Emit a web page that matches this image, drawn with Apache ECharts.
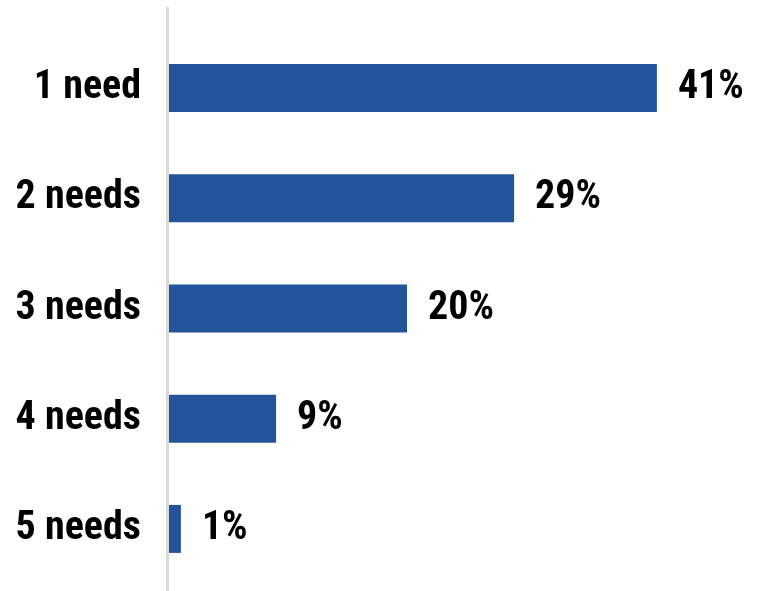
<!DOCTYPE html>
<html>
<head>
<meta charset="utf-8">
<script src="https://cdn.jsdelivr.net/npm/echarts@6/dist/echarts.min.js"></script>
<style>
  html, body { margin: 0; padding: 0; background: #fff; }
  #main { width: 764px; height: 591px; }
</style>
</head>
<body>
<div id="main"></div>
<script>
// 类别与数值
const categories = ["1 need", "2 needs", "3 needs", "4 needs", "5 needs"];
const shares = [41, 29, 20, 9, 1];

const chart = echarts.init(document.getElementById("main"));

const font = '"Liberation Sans Narrow", "Roboto Condensed", "DejaVu Sans Condensed", sans-serif';

const option = {
  animation: false,
  grid: [
    { left: 169, top: 33, width: 596, height: 551 },
    // 只用来画那条长的竖轴线
    { left: 167.5, top: 8, width: 596, height: 583 },
  ],
  xAxis: [
    { gridIndex: 0, type: "value", min: 0, max: 50, show: false },
    { gridIndex: 1, type: "value", min: 0, max: 1, show: false },
  ],
  yAxis: [
    {
      gridIndex: 0,
      type: "category",
      data: categories,
      inverse: true,
      axisLine: { show: false },
      axisTick: { show: false },
      axisLabel: {
        margin: 28,
        color: "#000",
        fontFamily: font,
        fontWeight: "bold",
        fontSize: 40,
      },
    },
    {
      gridIndex: 1,
      type: "value",
      min: 0,
      max: 1,
      axisLine: { show: true, lineStyle: { color: "#d9d9d9", width: 3 } },
      axisTick: { show: false },
      axisLabel: { show: false },
      splitLine: { show: false },
    },
  ],
  series: [
    {
      type: "bar",
      xAxisIndex: 0,
      yAxisIndex: 0,
      data: shares,
      barWidth: 48,
      itemStyle: { color: "#24549a" },
      label: {
        show: true,
        position: "right",
        distance: 21,
        formatter: (p) => p.value + "%",
        color: "#000",
        fontFamily: font,
        fontWeight: "bold",
        fontSize: 40,
      },
    },
  ],
};

chart.setOption(option);
</script>
</body>
</html>
